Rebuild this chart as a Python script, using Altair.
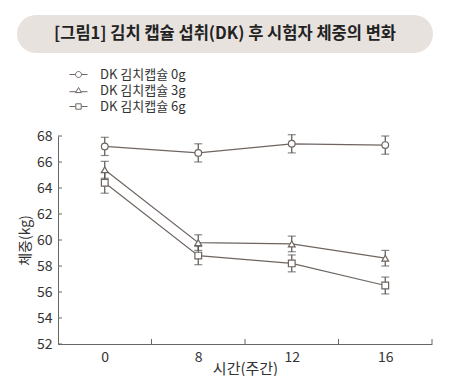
import altair as alt
import pandas as pd

weeks = [0, 8, 12, 16]
groups = ["DK 김치캡슐 0g", "DK 김치캡슐 3g", "DK 김치캡슐 6g"]
mean_0g = [67.2, 66.7, 67.4, 67.3]
mean_3g = [65.4, 59.8, 59.7, 58.6]
mean_6g = [64.4, 58.8, 58.2, 56.5]
err_0g = [0.7, 0.7, 0.7, 0.7]
err_3g = [0.65, 0.6, 0.6, 0.6]
err_6g = [0.8, 0.7, 0.65, 0.65]
y_ticks = [52, 54, 56, 58, 60, 62, 64, 66, 68]
minor_x = [0.5, 1.5, 2.5, 3.5]
title_text = "[그림1] 김치 캡슐 섭취(DK) 후 시험자 체중의 변화"

FONT = "Noto Sans CJK KR"
LINE = "#6e6560"
ERR = "#5a5552"

rows = []
for g, m, e in zip(groups, [mean_0g, mean_3g, mean_6g], [err_0g, err_3g, err_6g]):
    for i, (w, v, s) in enumerate(zip(weeks, m, e)):
        rows.append({"group": g, "idx": i, "week": w, "mean": v, "lo": v - s, "hi": v + s})
df = pd.DataFrame(rows)

label_expr = " : ".join(f"datum.value == {i} ? '{w}'" for i, w in enumerate(weeks)) + " : ''"

xs = alt.Scale(domain=[-0.5, 3.5], nice=False, zero=False)
ys = alt.Scale(domain=[52, 68], nice=False, zero=False)

xaxis = alt.Axis(
    values=list(range(len(weeks))), labelExpr=label_expr, ticks=False, grid=False,
    title="시간(주간)", labelFont=FONT, labelFontSize=14, labelColor="#333",
    labelPadding=6, titleFont=FONT, titleFontSize=15, titleFontWeight="normal",
    titleColor="#333", titleBaseline="bottom", titleY=32, labelOverlap=False,
    domainColor="#666")
yaxis = alt.Axis(
    values=y_ticks, ticks=False, grid=False, title="체중(kg)", labelOverlap=False,
    labelFont=FONT, labelFontSize=14, labelColor="#333", labelPadding=6,
    titleFont=FONT, titleFontSize=14, titleFontWeight="normal", titleColor="#333",
    titlePadding=4, domainColor="#666")


def X(f):
    return alt.X(f, scale=xs, axis=xaxis)


def Y(f):
    return alt.Y(f, scale=ys, axis=yaxis)


base = alt.Chart(df)

lines = base.mark_line(color=LINE, strokeWidth=1.2).encode(
    x=X("idx:Q"), y=Y("mean:Q"), detail="group:N")

err_rules = base.mark_rule(color=ERR, strokeWidth=1.2).encode(
    x=X("idx:Q"), y=Y("lo:Q"), y2="hi:Q")
cap_lo = base.mark_tick(color=ERR, orient="horizontal", size=8, thickness=1.2).encode(
    x=X("idx:Q"), y=Y("lo:Q"))
cap_hi = base.mark_tick(color=ERR, orient="horizontal", size=8, thickness=1.2).encode(
    x=X("idx:Q"), y=Y("hi:Q"))

points = base.mark_point(filled=True, fill="white", stroke=LINE, strokeWidth=1.2,
                         opacity=1, size=45).encode(
    x=X("idx:Q"), y=Y("mean:Q"),
    shape=alt.Shape("group:N", scale=alt.Scale(domain=groups,
                    range=["circle", "triangle-up", "square"]), legend=None))

leg_paths = [
    "M-1.5,0H-0.5M0.5,0H1.5M0.5,0A0.5,0.5 0 1,1 -0.5,0A0.5,0.5 0 1,1 0.5,0Z",
    "M-1.5,0.2H-0.45M0.45,0.2H1.5M0,-0.5L0.5,0.35L-0.5,0.35Z",
    "M-1.5,0H-0.5M0.5,0H1.5M-0.45,-0.45H0.45V0.45H-0.45Z",
]
legend_layer = base.transform_filter("datum.idx < 0").mark_point(
    filled=False, color=LINE, strokeWidth=1, size=144, opacity=1).encode(
    x=X("idx:Q"), y=Y("mean:Q"),
    shape=alt.Shape("group:N", title=None,
                    scale=alt.Scale(domain=groups, range=leg_paths),
                    legend=alt.Legend(orient="none", legendX=14, legendY=-68,
                                      symbolSize=144, symbolOpacity=1,
                                      symbolStrokeColor=LINE,
                                      symbolStrokeWidth=1, rowPadding=2,
                                      labelOffset=15, labelFont=FONT,
                                      labelFontSize=13, labelColor="#333",
                                      padding=0)))

ytick_df = pd.DataFrame({"v": y_ticks})
yticks = alt.Chart(ytick_df).mark_rule(color="#666").encode(
    y=Y("v:Q"), x=alt.value(0), x2=alt.value(4))
xtick_df = pd.DataFrame({"v": minor_x})
xticks = alt.Chart(xtick_df).mark_rule(color="#666").encode(
    x=X("v:Q"), y=alt.value(208), y2=alt.value(203))

box_df = pd.DataFrame({"t": [title_text]})
box = alt.Chart(box_df).mark_rect(fill="#e8e2df", cornerRadius=19).encode(
    x=alt.value(-41), x2=alt.value(375), y=alt.value(-121), y2=alt.value(-83))
title = alt.Chart(box_df).mark_text(font=FONT, fontSize=16.5, fontWeight="bold",
                                    color="#222", align="center", baseline="middle").encode(
    text="t:N", x=alt.value(167), y=alt.value(-102))

chart = alt.layer(lines, box, title, err_rules, cap_lo, cap_hi, points, legend_layer,
                  yticks, xticks).resolve_scale(shape="independent").properties(
    width=374, height=208,
    autosize=alt.AutoSizeParams(type="none"),
    padding={"left": 50, "top": 128, "right": 10, "bottom": 32},
).configure(background="white").configure_view(stroke=None)

chart.save("out.html", embed_options={"renderer": "svg", "actions": False})
